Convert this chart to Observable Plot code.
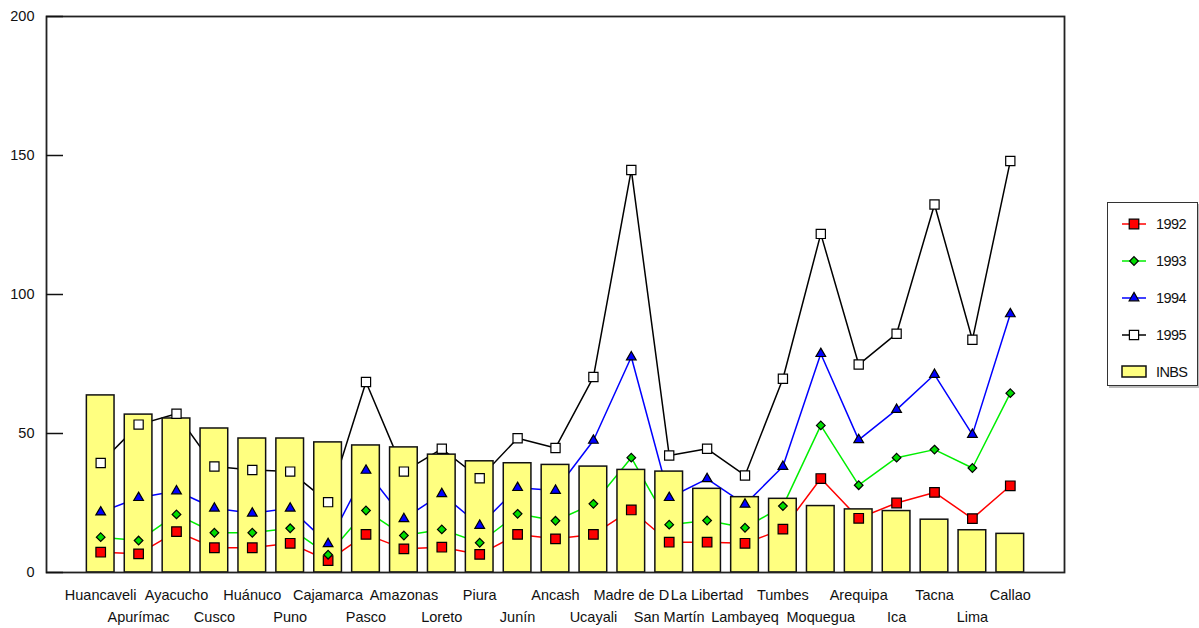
<!DOCTYPE html>
<html>
<head>
<meta charset="utf-8">
<script src="https://cdn.jsdelivr.net/npm/d3@7"></script>
<script src="https://cdn.jsdelivr.net/npm/@observablehq/plot@0.6"></script>
<style>
  body { margin: 0; background: #fff; font-family: "Liberation Sans", Arial, sans-serif; }
  #wrap { position: relative; width: 1199px; height: 628px; overflow: hidden; }
  #legend { position: absolute; left: 1107px; top: 202px; width: 91px; height: 184px;
            border: 1.5px solid #333; box-sizing: border-box; background: #fff;
            padding-top: 2px; box-shadow: 2px 2px 0 #bbb; }
  .row { display: flex; align-items: center; height: 37px; padding-left: 13px; }
  .row svg { display: block; }
  .row span { margin-left: 9px; font-size: 14.5px; color: #111; letter-spacing: -0.6px; }
</style>
</head>
<body>
<div id="wrap"><div id="chart"></div><div id="legend"></div></div>
<script>
const regions = ["Huancaveli","Apurímac","Ayacucho","Cusco","Huánuco","Puno","Cajamarca","Pasco","Amazonas","Loreto","Piura","Junín","Ancash","Ucayali","Madre de D","San Martín","La Libertad","Lambayeq","Tumbes","Moquegua","Arequipa","Ica","Tacna","Lima","Callao"];
const inbs  = [63.7,56.8,55.4,51.8,48.2,48.2,46.8,45.7,45.0,42.4,40.0,39.3,38.7,38.1,36.9,36.3,30.1,27.1,26.5,23.9,22.7,22.1,19.0,15.2,13.9];
const v1992 = [7.3,6.7,14.7,8.9,8.9,10.5,4.3,13.7,8.5,9.1,6.5,13.7,12.1,13.7,22.5,10.9,10.9,10.5,15.6,33.8,19.5,25.0,28.8,19.4,31.2];
const v1993 = [12.7,11.5,20.9,14.3,14.3,15.9,6.4,22.3,13.3,15.5,10.7,21.1,18.6,24.7,41.3,17.2,18.7,16.1,23.9,52.9,31.4,41.3,44.2,37.6,64.5];
const v1994 = [21.7,26.9,29.3,23.1,21.3,23.1,10.3,36.7,19.3,28.3,16.9,30.5,29.5,47.5,77.5,26.9,33.7,24.5,38.1,78.7,47.7,58.6,71.2,49.6,93.0];
const v1995 = [39.4,53.2,57.1,38.1,36.9,36.3,25.3,68.5,36.3,44.5,33.9,48.3,44.8,70.3,144.8,42.1,44.5,34.9,69.7,121.8,74.8,85.9,132.4,83.7,148.0];
const yTicks = [0,50,100,150,200];
const legendLabels = ["1992","1993","1994","1995","INBS"];

const toRows = vals => regions.map((r, i) => ({region: r, value: vals[i]}));
const bars = toRows(inbs);
const s92 = toRows(v1992), s93 = toRows(v1993), s94 = toRows(v1994), s95 = toRows(v1995);

const styles = [
  {data: s92, line: "#ff0000", symbol: "square",   fill: "#ff0000", r: 5.4},
  {data: s93, line: "#00ee00", symbol: "diamond2", fill: "#00dd00", r: 3.9},
  {data: s94, line: "#0000ff", symbol: "triangle", fill: "#0000ff", r: 3.6},
  {data: s95, line: "#000000", symbol: "square",   fill: "#ffffff", r: 5.2}
];

const topRow = regions.filter((d, i) => i % 2 === 0);
const bottomRow = regions.filter((d, i) => i % 2 === 1);

const chart = Plot.plot({
  width: 1199,
  height: 628,
  marginLeft: 46,
  marginRight: 135,
  marginTop: 16,
  marginBottom: 56,
  style: {fontFamily: "Liberation Sans, Arial, sans-serif", background: "transparent"},
  x: {domain: regions, paddingInner: 0.27, paddingOuter: 1.065, round: false},
  y: {domain: [0, 200]},
  marks: [
    ...styles.map(s => Plot.line(s.data, {x: "region", y: "value", stroke: s.line, strokeWidth: 1.5})),
    Plot.barY(bars, {x: "region", y: "value", fill: "#ffff80", stroke: "#111", strokeWidth: 1.5}),
    ...styles.map(s => Plot.dot(s.data, {x: "region", y: "value", symbol: s.symbol, r: s.r, fill: s.fill, stroke: "#000", strokeWidth: 1.2})),
    Plot.frame({stroke: "#222", strokeWidth: 1.8}),
    Plot.axisY({ticks: yTicks, tickSize: -17, tickPadding: 29, fontSize: 14.5, label: null, stroke: "#111", strokeWidth: 1.5, fill: "#111"}),
    Plot.axisX({ticks: topRow, tickSize: 0, tickPadding: 17, fontSize: 14.5, label: null, fill: "#111"}),
    Plot.axisX({ticks: bottomRow, tickSize: 0, tickPadding: 39, fontSize: 14.5, label: null, fill: "#111"})
  ]
});
document.getElementById("chart").appendChild(chart);

// legend
const legend = d3.select("#legend");
legendLabels.forEach((lab, i) => {
  const row = legend.append("div").attr("class", "row");
  const svg = row.append("svg").attr("width", 26).attr("height", 16);
  if (i < 4) {
    const s = styles[i];
    svg.append("line").attr("x1", 1).attr("x2", 25).attr("y1", 8).attr("y2", 8)
      .attr("stroke", s.line).attr("stroke-width", 1.5);
    const sym = {square: d3.symbolSquare, diamond2: d3.symbolDiamond2, triangle: d3.symbolTriangle}[s.symbol];
    svg.append("path").attr("transform", "translate(13,8)")
      .attr("d", d3.symbol(sym, Math.PI * s.r * s.r)())
      .attr("fill", s.fill).attr("stroke", "#000").attr("stroke-width", 1.2);
  } else {
    svg.append("rect").attr("x", 1).attr("y", 2).attr("width", 24).attr("height", 11)
      .attr("fill", "#ffff80").attr("stroke", "#111").attr("stroke-width", 1.5);
  }
  row.append("span").text(lab);
});
</script>
</body>
</html>
